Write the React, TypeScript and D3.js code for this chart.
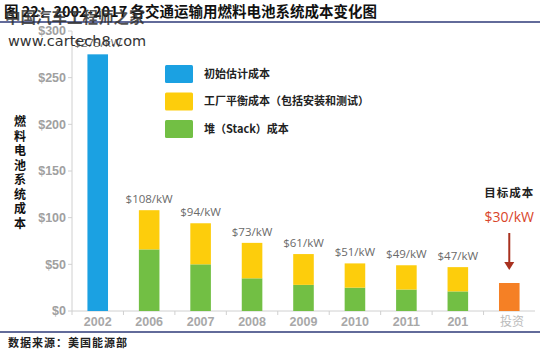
import React, { useRef, useEffect } from 'react';
import * as d3 from 'd3';

const categories = ['2002', '2006', '2007', '2008', '2009', '2010', '2011', '2012', 'target'];
const xLabels = ['2002', '2006', '2007', '2008', '2009', '2010', '2011', '201', ''];
const initialCost = [275, 0, 0, 0, 0, 0, 0, 0, 0];
const stackCost = [0, 66, 50, 35, 28, 25, 23, 21, 0];
const bopCost = [0, 42, 44, 38, 33, 26, 26, 26, 0];
const targetCost = [0, 0, 0, 0, 0, 0, 0, 0, 30];
const totalLabels = ['$275/kW', '$108/kW', '$94/kW', '$73/kW', '$61/kW', '$51/kW', '$49/kW', '$47/kW', ''];
const yTicks = [0, 50, 100, 150, 200, 250, 300];
const legendItems = ['初始估计成本', '工厂平衡成本（包括安装和测试）', '堆（Stack）成本'];

const W = 550;
const H = 352;
const cjk = '"Noto Sans CJK SC", "Noto Sans", sans-serif';

const App: React.FC = () => {
  const svgRef = useRef<SVGSVGElement>(null);

  useEffect(() => {
    document.body.style.margin = '0';
    if (!svgRef.current) return;
    const svg = d3.select(svgRef.current);
    svg.selectAll('*').remove();

    const x = d3.scaleBand().domain(categories).range([72, 535]).paddingInner(0.6).paddingOuter(0.3);
    const y = d3.scaleLinear().domain([0, 300]).range([311, 31]);

    // axes
    svg.append('line').attr('x1', 72).attr('x2', 72).attr('y1', y(300)).attr('y2', y(0))
      .attr('stroke', '#d0d0d0');
    svg.append('line').attr('x1', 72).attr('x2', 535).attr('y1', y(0)).attr('y2', y(0))
      .attr('stroke', '#d0d0d0');
    yTicks.forEach(t => {
      svg.append('line').attr('x1', 68).attr('x2', 72).attr('y1', y(t)).attr('y2', y(t)).attr('stroke', '#d0d0d0');
      svg.append('text').attr('x', 66).attr('y', y(t)).attr('dy', '0.35em')
        .attr('text-anchor', 'end').attr('fill', '#a0a0a0').attr('font-weight', 'bold')
        .attr('font-family', 'Arial, "Liberation Sans", sans-serif').attr('font-size', 12.5)
        .text(`$${t}`);
    });
    categories.forEach((c, i) => {
      const xs = (x(c) as number) - x.step() * x.paddingInner() / 2;
      svg.append('line').attr('x1', xs).attr('x2', xs).attr('y1', y(0)).attr('y2', y(0) + 4).attr('stroke', '#d0d0d0');
      svg.append('text').attr('x', (x(c) as number) + x.bandwidth() / 2).attr('y', 326)
        .attr('text-anchor', 'middle').attr('fill', '#a8a8a8').attr('font-weight', 'bold')
        .attr('font-family', 'Arial, "Liberation Sans", sans-serif').attr('font-size', 12.5)
        .text(xLabels[i]);
    });

    // bars
    const bw = x.bandwidth();
    categories.forEach((c, i) => {
      const bx = x(c) as number;
      if (initialCost[i] > 0)
        svg.append('rect').attr('x', bx).attr('width', bw).attr('y', y(initialCost[i]))
          .attr('height', y(0) - y(initialCost[i])).attr('fill', '#1ba1e2');
      if (stackCost[i] > 0) {
        svg.append('rect').attr('x', bx).attr('width', bw).attr('y', y(stackCost[i]))
          .attr('height', y(0) - y(stackCost[i])).attr('fill', '#72bf44');
        const top = stackCost[i] + bopCost[i];
        svg.append('rect').attr('x', bx).attr('width', bw).attr('y', y(top))
          .attr('height', y(stackCost[i]) - y(top)).attr('fill', '#fdcd0c');
      }
      if (targetCost[i] > 0)
        svg.append('rect').attr('x', bx).attr('width', bw).attr('y', y(targetCost[i]))
          .attr('height', y(0) - y(targetCost[i])).attr('fill', '#f58025');
      const total = initialCost[i] + stackCost[i] + bopCost[i];
      if (totalLabels[i])
        svg.append('text').attr('x', bx + bw / 2).attr('y', y(total) - 7)
          .attr('text-anchor', 'middle').attr('fill', '#6a6a6a')
          .attr('font-family', '"Open Sans", Arial, sans-serif').attr('font-size', 11.5)
          .text(totalLabels[i]);
    });

    // target annotation
    const tx = (x('target') as number) + bw / 2;
    svg.append('text').attr('x', tx).attr('y', 197).attr('text-anchor', 'middle')
      .attr('font-family', cjk).attr('font-weight', 'bold').attr('font-size', 11.5).attr('fill', '#222')
      .attr('letter-spacing', 1).text('目标成本');
    svg.append('text').attr('x', tx).attr('y', 222).attr('text-anchor', 'middle')
      .attr('font-family', '"Open Sans", Arial, sans-serif').attr('font-size', 14).attr('fill', '#d9452a')
      .text('$30/kW');
    svg.append('line').attr('x1', tx).attr('x2', tx).attr('y1', 233).attr('y2', 265)
      .attr('stroke', '#a8311f').attr('stroke-width', 2);
    svg.append('path').attr('d', `M${tx - 5},${262} L${tx + 5},${262} L${tx},${270} Z`).attr('fill', '#a8311f');

    // legend
    const colors = ['#1ba1e2', '#fdcd0c', '#72bf44'];
    legendItems.forEach((t, i) => {
      const ly = 65 + i * 27.5;
      svg.append('rect').attr('x', 165).attr('y', ly).attr('width', 28).attr('height', 18)
        .attr('fill', colors[i]).attr('rx', 1.5);
      svg.append('text').attr('x', 204).attr('y', ly + 9).attr('dy', '0.35em')
        .attr('font-family', cjk).attr('font-weight', 'bold').attr('font-size', 11).attr('fill', '#222')
        .text(t);
    });

    // y axis title
    const yt = '燃料电池系统成本';
    yt.split('').forEach((ch, i) => {
      svg.append('text').attr('x', 20).attr('y', 126 + i * 14.5).attr('text-anchor', 'middle')
        .attr('font-family', cjk).attr('font-weight', 'bold').attr('font-size', 12).attr('fill', '#111')
        .text(ch);
    });

    // header & footer
    svg.append('line').attr('x1', 0).attr('x2', 540).attr('y1', 22).attr('y2', 22)
      .attr('stroke', '#2e3a78').attr('stroke-width', 1.5);
    svg.append('text').attr('x', 4).attr('y', 17)
      .attr('font-family', cjk).attr('font-weight', 'bold').attr('font-size', 14.5).attr('fill', '#111')
      .text('图 22：2002-2017 各交通运输用燃料电池系统成本变化图');
    svg.append('text').attr('x', 5).attr('y', 23)
      .attr('font-family', cjk).attr('font-weight', 'bold').attr('font-size', 15.5).attr('fill', '#333')
      .attr('opacity', 0.85).text('中国汽车工程师之家');
    svg.append('text').attr('x', 8).attr('y', 46)
      .attr('font-family', '"DejaVu Sans", sans-serif').attr('font-size', 14.5).attr('fill', '#333')
      .text('www.cartech8.com');

    svg.append('line').attr('x1', 0).attr('x2', 540).attr('y1', 332).attr('y2', 332)
      .attr('stroke', '#2e3a78').attr('stroke-width', 1.5);
    svg.append('text').attr('x', 8).attr('y', 347)
      .attr('font-family', cjk).attr('font-weight', 'bold').attr('font-size', 11).attr('fill', '#222')
      .attr('letter-spacing', 1).text('数据来源：美国能源部');
    svg.append('text').attr('x', 500).attr('y', 326)
      .attr('font-family', cjk).attr('font-size', 12).attr('fill', '#bbb')
      .text('投资');
  }, []);

  return <svg ref={svgRef} width={W} height={H} style={{ display: 'block', background: '#fff' }} />;
};

export default App;
